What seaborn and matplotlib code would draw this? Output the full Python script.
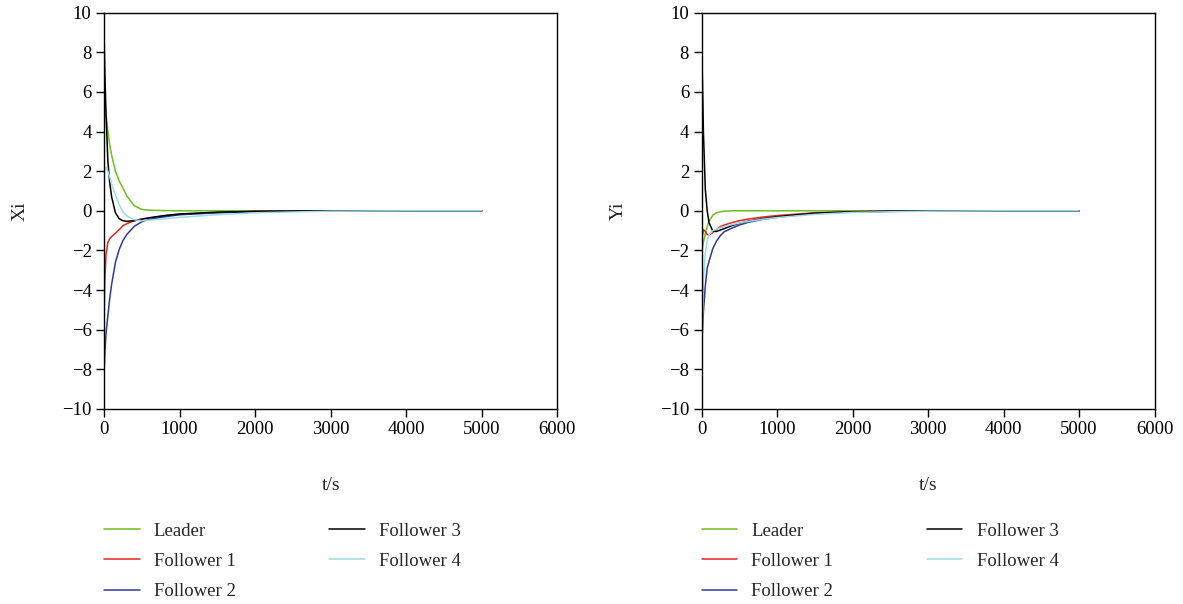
import numpy as np
import pandas as pd
import matplotlib
matplotlib.use("Agg")
import matplotlib.pyplot as plt
import seaborn as sns

# ─── DATA ──────────────────────────────────────────────────────
t = [0, 10, 25, 50, 75, 100, 150, 200, 250, 300, 400, 500, 600,
     800, 1000, 1500, 2000, 3000, 4000, 5000]

names = ["Leader", "Follower 1", "Follower 2", "Follower 3", "Follower 4"]
colors = ["#6cbf1e", "#e2271d", "#2b3a9c", "#000000", "#9cdcea"]

# X positions
leader_x = [6.2, 5.6, 4.9, 4.0, 3.3, 2.8, 2.0, 1.5, 1.15, 0.75, 0.25, 0.07,
            0.03, 0.01, 0, 0, 0, 0, 0, 0]
f1_x = [-5.2, -3.5, -2.2, -1.6, -1.4, -1.3, -1.13, -0.95, -0.75, -0.65, -0.5,
        -0.42, -0.36, -0.26, -0.18, -0.08, -0.03, 0, 0, 0]
f2_x = [-8.1, -7.2, -6.2, -5.3, -4.4, -3.7, -2.6, -1.95, -1.5, -1.2, -0.78,
        -0.55, -0.43, -0.3, -0.2, -0.1, -0.04, 0, 0, 0]
f3_x = [8.8, 7.0, 4.9, 2.5, 1.4, 0.7, -0.1, -0.4, -0.5, -0.53, -0.5, -0.42,
        -0.35, -0.24, -0.16, -0.07, -0.03, 0, 0, 0]
f4_x = [1.8, 2.1, 2.2, 2.0, 1.7, 1.35, 0.8, 0.3, -0.05, -0.25, -0.45, -0.5,
        -0.47, -0.4, -0.33, -0.2, -0.1, -0.02, 0, 0]

# Y positions
leader_y = [-2.2, -1.9, -1.6, -1.15, -0.8, -0.52, -0.22, -0.1, -0.05, -0.02,
            0, 0, 0, 0, 0, 0, 0, 0, 0, 0]
f1_y = [-2.0, -1.3, -0.95, -1.05, -1.2, -1.22, -1.1, -0.95, -0.8, -0.72, -0.6,
        -0.5, -0.43, -0.32, -0.24, -0.1, -0.04, 0, 0, 0]
f2_y = [-7.4, -6.3, -5.1, -3.8, -2.9, -2.55, -1.9, -1.52, -1.25, -1.06, -0.88,
        -0.72, -0.6, -0.44, -0.33, -0.14, -0.06, 0, 0, 0]
f3_y = [9.0, 7.0, 4.0, 1.1, 0.0, -0.6, -1.03, -1.04, -0.97, -0.9, -0.75,
        -0.63, -0.54, -0.4, -0.3, -0.12, -0.05, 0, 0, 0]
f4_y = [-8.8, -6.0, -3.5, -2.15, -1.55, -1.2, -1.0, -0.93, -0.86, -0.8, -0.7,
        -0.62, -0.55, -0.43, -0.34, -0.18, -0.08, -0.02, 0, 0]

x_ticks = [0, 1000, 2000, 3000, 4000, 5000, 6000]
y_ticks = [-10, -8, -6, -4, -2, 0, 2, 4, 6, 8, 10]


def long_form(series):
    rows = []
    for name, vals in zip(names, series):
        for ti, v in zip(t, vals):
            rows.append({"t": ti, "v": v, "agent": name})
    return pd.DataFrame(rows)


df_x = long_form([leader_x, f1_x, f2_x, f3_x, f4_x])
df_y = long_form([leader_y, f1_y, f2_y, f3_y, f4_y])

# ─── STYLE ─────────────────────────────────────────────────────
sns.set_style("ticks")
plt.rcParams["font.family"] = ["Liberation Serif", "DejaVu Serif"]
plt.rcParams["axes.unicode_minus"] = True

fig = plt.figure(figsize=(11.83, 6.04), dpi=100)
ax1 = fig.add_axes([0.088, 0.323, 0.383, 0.656])
ax2 = fig.add_axes([0.593, 0.323, 0.383, 0.656])

palette = dict(zip(names, colors))

for ax, df, ylab in [(ax1, df_x, "Xi"), (ax2, df_y, "Yi")]:
    sns.lineplot(data=df, x="t", y="v", hue="agent", hue_order=names,
                 palette=palette, estimator=None, linewidth=1.1, ax=ax)
    ax.set_xlim(0, 6000)
    ax.set_ylim(-10, 10)
    ax.set_xticks(x_ticks)
    ax.set_yticks(y_ticks)
    ax.tick_params(direction="out", length=6, width=1, labelsize=13.5,
                   colors="black", pad=3)
    for sp in ax.spines.values():
        sp.set_color("black")
        sp.set_linewidth(1.0)
    ax.set_xlabel("t/s", fontsize=14, labelpad=28)
    ax.set_ylabel(ylab, fontsize=14, labelpad=24)
    handles, labels = ax.get_legend_handles_labels()
    ax.get_legend().remove()
    for h in handles:
        h.set_linewidth(1.1)
    pos = ax.get_position()
    ax.legend(handles, labels, loc="upper left",
              bbox_to_anchor=(pos.x0, 0.135),
              bbox_transform=fig.transFigure, ncol=2, frameon=False,
              fontsize=13.5, handlelength=1.9, handletextpad=0.75,
              columnspacing=5.0, labelspacing=0.71, borderpad=0,
              borderaxespad=0)

fig.savefig("out.png", dpi=100)
